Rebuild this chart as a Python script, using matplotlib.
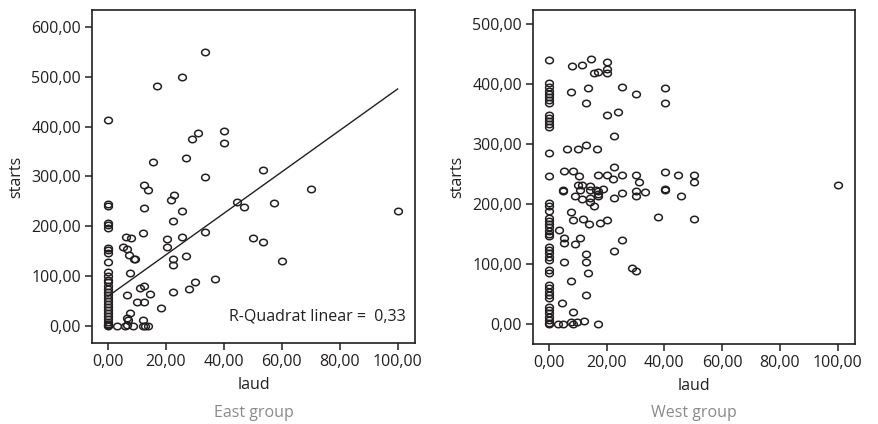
import numpy as np
import matplotlib
matplotlib.use("Agg")
import matplotlib.pyplot as plt
from matplotlib.path import Path

# ---------------- data ----------------
east_laud = [0]*30 + [
    33.6, 25.4, 17.0, 40.2, 31.1, 29.0, 40.2, 26.9, 15.6, 53.4, 33.6, 70.2, 12.6, 13.8,
    22.8, 21.6, 44.7, 57.2, 46.8, 12.6, 25.4, 100.0, 22.6, 33.6, 12.1, 25.4, 50.2, 6.4,
    8.0, 20.3, 53.4, 5.3, 6.6, 20.3, 7.4, 9.1, 9.5, 22.6, 22.6, 26.9, 60.1, 7.5, 36.8,
    30.2, 28.0, 12.6, 11.1, 6.6, 14.6, 22.4, 12.6, 10.2, 18.2, 7.5, 6.9, 6.6, 12.2,
    3.3, 5.8, 6.6, 8.5, 12.0, 12.9, 13.8]
east_starts = [413, 245, 241, 207, 202, 197, 157, 152, 147, 128, 108, 100, 93, 88, 80,
               74, 68, 62, 56, 50, 44, 38, 32, 26, 20, 14, 9, 5, 2, 0] + [
    549, 499, 481, 391, 388, 376, 368, 338, 330, 313, 299, 274, 282, 273,
    263, 253, 249, 247, 239, 237, 230, 230, 211, 188, 186, 179, 177, 179,
    177, 174, 169, 159, 155, 159, 143, 135, 135, 134, 123, 141, 131, 106, 94,
    89, 75, 81, 76, 63, 64, 69, 49, 49, 37, 27, 12, 17, 12,
    0, 0, 2, 0, 0, 0, 0]

west_laud = [0]*44 + [
    7.9, 11.4, 14.5, 20.2, 20.2, 20.2, 15.6, 17.0, 7.8, 13.7, 25.3, 30.2, 40.2, 40.2,
    12.9, 20.2, 23.8, 22.4, 6.2, 10.2, 12.9, 16.6, 22.4, 5.3, 8.4, 10.3, 17.0, 20.2,
    22.1, 25.3, 30.2, 31.3, 40.2, 44.8, 50.2, 50.2, 10.1, 11.5, 4.9, 4.9, 14.1, 14.1,
    10.7, 16.4, 17.0, 18.7, 9.1, 11.5, 14.4, 17.0, 17.0, 14.4, 15.5, 22.5, 25.3, 30.2,
    30.2, 33.4, 40.2, 40.2, 45.6, 7.6, 8.2, 11.7, 14.0, 17.7, 20.2, 37.8, 50.2, 3.6,
    5.2, 5.2, 9.1, 10.9, 25.3, 22.4, 12.9, 12.9, 5.1, 13.4, 28.9, 30.2, 7.8, 12.9,
    4.7, 8.4, 12.2, 3.3, 4.9, 7.8, 8.4, 9.9, 17.0, 100.0]
west_starts = [439, 401, 394, 388, 383, 378, 373, 368, 349, 344, 339, 334, 329, 285,
               246, 202, 196, 188, 177, 172, 166, 161, 155, 150, 146, 129, 124, 118,
               112, 107, 90, 85, 65, 60, 54, 48, 43, 29, 24, 18, 12, 7, 2, 0] + [
    430, 432, 442, 436, 424, 418, 418, 419, 386, 393, 395, 383, 393, 368,
    368, 349, 353, 314, 292, 291, 299, 292, 262, 255, 255, 246, 248, 249,
    242, 248, 248, 236, 254, 248, 248, 236, 232, 232, 223, 221, 230, 224,
    224, 224, 221, 225, 213, 208, 210, 213, 217, 203, 196, 210, 219, 221,
    214, 220, 225, 223, 213, 186, 174, 175, 166, 168, 173, 179, 175, 156,
    143, 135, 134, 144, 140, 122, 117, 104, 104, 85, 93, 88, 72, 49,
    36, 20, 5, 0, 0, 3, 0, 3, 0, 231]

# linear fit shown on East panel
east_fit_intercept = 59.6
east_fit_slope = 4.16
east_r2_label = "R-Quadrat linear =  0,33"

x_ticks = [0, 20, 40, 60, 80, 100]
x_tick_labels = ["0,00", "20,00", "40,00", "60,00", "80,00", "100,00"]
east_y_ticks = [0, 100, 200, 300, 400, 500, 600]
east_y_tick_labels = ["0,00", "100,00", "200,00", "300,00", "400,00", "500,00", "600,00"]
west_y_ticks = [0, 100, 200, 300, 400, 500]
west_y_tick_labels = ["0,00", "100,00", "200,00", "300,00", "400,00", "500,00"]
group_titles = ["East group", "West group"]

# ---------------- style ----------------
plt.rcParams['font.family'] = ['Open Sans', 'DejaVu Sans']
DARK = '#231f20'
GRAY = '#8a8a8a'
FS = 11.5

theta = np.linspace(0, 2*np.pi, 41)
ell = Path(np.c_[1.2*np.cos(theta), np.sin(theta)], closed=True)

fig = plt.figure(figsize=(8.79, 4.24), dpi=100)
axL = fig.add_axes([92/879, 81/424, 323/879, 333/424])
axR = fig.add_axes([533/879, 80/424, 322/879, 334/424])

def style(ax, yt, ytl, ylim):
    ax.set_xlim(-5.5, 106)
    ax.set_ylim(*ylim)
    ax.set_xticks(x_ticks)
    ax.set_xticklabels(x_tick_labels)
    ax.set_yticks(yt)
    ax.set_yticklabels(ytl)
    ax.tick_params(direction='out', length=5, width=1.1, color=DARK,
                   labelsize=FS, labelcolor=DARK, pad=3)
    for s in ax.spines.values():
        s.set_color(DARK)
        s.set_linewidth(1.2)
    ax.set_xlabel('laud', fontsize=FS, color=DARK, labelpad=5)
    ax.set_ylabel('starts', fontsize=FS, color=DARK, labelpad=5)

axL.plot(east_laud, east_starts, linestyle='none', marker=ell, ms=5.6,
         mfc='none', mec=DARK, mew=1.1)
xs = np.array([min(east_laud), max(east_laud)])
axL.plot(xs, east_fit_intercept + east_fit_slope*xs, color=DARK, lw=1.0)
axL.text(0.972, 0.079, east_r2_label, transform=axL.transAxes, ha='right',
         va='center', fontsize=FS, color=DARK)
style(axL, east_y_ticks, east_y_tick_labels, (-34, 634))

axR.plot(west_laud, west_starts, linestyle='none', marker=ell, ms=5.6,
         mfc='none', mec=DARK, mew=1.1)
style(axR, west_y_ticks, west_y_tick_labels, (-33, 523))

for ax, t in zip([axL, axR], group_titles):
    pos = ax.get_position()
    fig.text((pos.x0 + pos.x1)/2, 11/424, t, ha='center', va='center',
             fontsize=FS, color=GRAY)

fig.savefig('out.png', dpi=100)
